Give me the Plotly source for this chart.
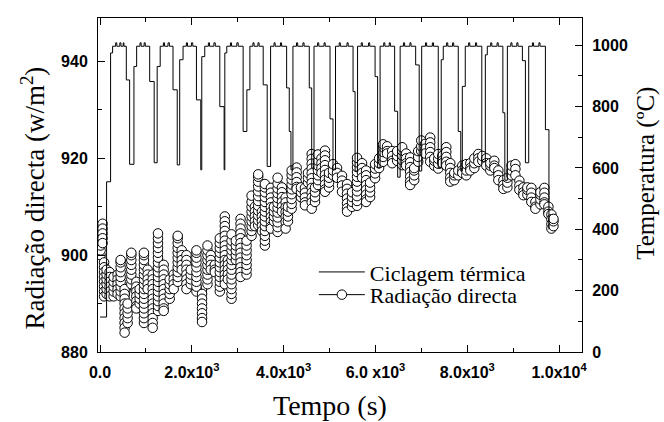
import plotly.graph_objects as go

# ---------------- data ----------------
# Thermal cycling (right axis, degC): step changes (time s, temperature)
thermal_time = [0, 142, 229, 273, 340, 365, 430, 455, 505, 520,
                572, 644, 738, 797, 870, 895, 960, 985,
                1081, 1179, 1244, 1310, 1380, 1405, 1480, 1510,
                1589, 1681, 1735, 1808, 1880, 1905, 1990, 2020,
                2100, 2194, 2216, 2281, 2360, 2385, 2480, 2510,
                2609, 2703, 2718, 2761, 2840, 2865, 2980, 3010,
                3117, 3198, 3264, 3330, 3355, 3440, 3465,
                3554, 3641, 3715, 3790, 3815, 3930, 3955,
                4065, 4122, 4159, 4202, 4280, 4305, 4420, 4445,
                4558, 4611, 4661, 4740, 4765, 4880, 4905,
                5010, 5075, 5130, 5210, 5235, 5380, 5405,
                5512, 5556, 5610, 5690, 5715, 5850, 5875,
                5992, 6047, 6101, 6180, 6205, 6300, 6325,
                6418, 6484, 6538, 6610, 6635, 6750, 6775,
                6876, 6953, 7007, 7090, 7115, 7240, 7265,
                7368, 7433, 7477, 7550, 7575, 7680, 7705,
                7804, 7859, 7892, 7957, 8030, 8055, 8180, 8205,
                8317, 8394, 8437, 8510, 8535, 8650, 8675,
                8776, 8819, 8874, 8950, 8975, 9080, 9105,
                9201, 9267, 9339, 9420, 9445, 9560, 9585,
                9703, 9780]
thermal_temp = [114, 555, 975, 997, 1008, 997, 1008, 997, 1008, 997,
                887, 612, 931, 997, 1008, 997, 1008, 997,
                882, 617, 931, 997, 1008, 997, 1008, 997,
                855, 610, 953, 997, 1008, 997, 1008, 997,
                822, 594, 963, 997, 1008, 997, 1008, 997,
                800, 594, 975, 997, 1008, 997, 1008, 997,
                719, 855, 997, 1008, 997, 1008, 997,
                871, 605, 997, 1008, 997, 1008, 997,
                861, 719, 594, 997, 1008, 997, 1008, 997,
                861, 600, 997, 1008, 997, 1008, 997,
                760, 594, 997, 1008, 997, 1008, 997,
                849, 590, 997, 1008, 997, 1008, 997,
                898, 600, 997, 1008, 997, 1008, 997,
                785, 570, 997, 1008, 997, 1008, 997,
                936, 590, 997, 1008, 997, 1008, 997,
                600, 953, 997, 1008, 997, 1008, 997,
                719, 590, 866, 997, 1008, 997, 1008, 997,
                620, 969, 997, 1008, 997, 1008, 997,
                780, 560, 997, 1008, 997, 1008, 997,
                950, 617, 997, 1008, 997, 1008, 997,
                725, 400]

# Direct radiation (left axis, W/m2): stacked readings, column by column
rad_col_time = [11, 55, 87, 142, 207, 295, 382, 448, 535, 600,
                681, 790, 862, 956, 1037, 1146, 1262, 1386, 1517, 1604,
                1692, 1779, 1882, 1976, 2100, 2222, 2340, 2412, 2500, 2609,
                2718, 2784, 2864, 2958, 3061, 3192, 3301, 3373, 3445, 3526,
                3591, 3722, 3788, 3868, 3962, 4043, 4093, 4174, 4283, 4377,
                4464, 4530, 4611, 4683, 4748, 4824, 4901, 4988, 5075, 5163,
                5272, 5381, 5490, 5599, 5708, 5796, 5883, 5992, 6079, 6167,
                6254, 6364, 6473, 6582, 6669, 6756, 6844, 6931, 6997, 7084,
                7193, 7281, 7368, 7455, 7543, 7630, 7717, 7805, 7892, 7979,
                8067, 8154, 8241, 8328, 8416, 8503, 8590, 8677, 8787, 8874,
                8962, 9049, 9136, 9223, 9310, 9397, 9485, 9594, 9681, 9768,
                9834, 9878]
rad_col_values = [
    [900, 901, 902, 903],
    [906.5, 905.5, 904.5, 903.5, 902.5],
    [898.5, 897.5, 896.5, 895.5, 894.5, 893.5, 892.5, 891.5],
    [892, 893, 894, 895, 896, 897],
    [896.5, 895.5, 894.5, 893.5, 892.5, 891.5],
    [891.5, 892.5, 893.5, 894.5, 895.5],
    [896, 895, 894, 893, 892],
    [891.5, 892.5, 893.5, 894.5, 895.5, 896.5, 897.5, 898.5, 899],
    [893, 892, 891, 890, 889, 888, 887, 886, 885, 884],
    [886, 887, 888, 889, 890],
    [894, 895, 896, 897, 898, 899, 900, 900.5],
    [894.5, 893.5, 892.5, 891.5, 890.5, 889.5, 889],
    [890, 891, 892, 893],
    [886, 887, 888, 889, 890, 891, 892, 893, 894, 895, 896, 897, 898, 899, 900, 900.5],
    [897, 896, 895, 894, 893],
    [896, 895, 894, 893, 892, 891, 890, 889, 888, 887, 886, 885],
    [888.5, 889.5, 890.5, 891.5, 892.5, 893.5, 894.5, 895.5, 896.5, 897.5, 898.5,
     899.5, 900.5, 901.5, 902.5, 903.5, 904.5],
    [898, 897, 896, 895, 894, 893, 892, 891, 890, 889, 888.5],
    [891, 892, 893, 894, 895],
    [896, 895, 894, 893],
    [894.5, 895.5, 896.5, 897.5, 898.5, 899.5, 900.5, 901.5, 902.5, 903.5, 904],
    [901, 900, 899, 898, 897],
    [900, 899, 898, 897, 896, 895, 894, 893],
    [894, 895, 896, 897],
    [892.5, 893.5, 894.5, 895.5, 896.5, 897.5, 898.5, 899.5, 900.5, 901],
    [892, 891, 890, 889, 888, 887, 886.2],
    [894, 895, 896, 897, 898, 899, 900, 901, 902],
    [900, 899, 898, 897],
    [898, 897, 896.5],
    [892.5, 893.5, 894.5, 895.5, 896.5, 897.5, 898.5, 899.5, 900.5, 901.5, 902.5, 903.5],
    [908, 907, 906, 905, 904, 903, 902, 901, 900, 899, 898, 897, 896, 895, 894],
    [899, 898, 897, 896, 895],
    [891, 892, 893, 894, 895, 896, 897, 898, 899, 900, 901, 902, 903, 904.3],
    [899, 900, 901, 902, 903],
    [907.5, 906.5, 905.5, 904.5, 903.5, 902.5, 901.5, 900.5, 899.5, 898.5, 897.5,
     896.5, 895.5],
    [896, 897, 898, 899, 900, 901, 902, 903],
    [904, 905, 906, 907, 908, 909, 910, 911, 912.3],
    [910, 909, 908, 907, 906],
    [906.2, 907.2, 908.2, 909.2, 910.2, 911.2, 912.2, 913.2, 914.2, 915.2, 916.2, 916.7],
    [909, 908, 907, 906, 905],
    [902, 903, 904, 905, 906, 907, 908, 909, 910, 911, 912, 913, 914, 914.7],
    [913.9, 912.9, 911.9, 910.9, 909.9, 908.9, 907.9, 906.9, 905.9, 905.5],
    [907, 908, 909, 910],
    [904.8, 905.8, 906.8, 907.8, 908.8, 909.8, 910.8, 911.8, 912.8, 913.8, 914.8, 916],
    [914, 913, 912, 911, 910, 909],
    [911.9, 910.9, 909.9, 908.9, 907.9, 906.9, 905.5],
    [907, 908, 909, 910],
    [909.6, 910.6, 911.6, 912.6, 913.6, 914.6, 915.6, 916.6, 917.5],
    [918.1, 917.1, 916.1, 915.1, 914.1, 913.7],
    [912, 913, 914],
    [913.9, 912.9, 911.9, 910.9, 910.3],
    [915, 916, 917],
    [920.9, 919.9, 918.9, 917.9, 916.9, 915.9, 914.9, 913.9, 912.9, 911.9, 910.9, 909.6],
    [911, 912, 913, 914],
    [914.5, 915.5, 916.5, 917.5, 918.5, 919.5, 920.8],
    [920, 919, 918, 917],
    [921.6, 920.6, 919.6, 918.6, 917.6, 916.6, 915.6, 914.6, 913.6, 913.1],
    [914, 915, 916, 917],
    [916.5, 917.5, 918.8],
    [918, 917, 916],
    [916.4, 915.4, 914.4, 913.1],
    [914.7, 913.7, 912.7, 911.7, 910.7, 909.7, 909],
    [910, 911, 912, 913],
    [910.2, 911.2, 912.2, 913.2, 914.2, 915.2, 916.2, 917.2, 918.2, 919.2, 920.1],
    [919, 918, 917, 916],
    [917.5, 916.5, 915.5, 914.5, 913.5, 912.5, 911.5, 911],
    [912, 913, 914, 915],
    [915.9, 916.9, 917.9, 918.8],
    [918, 919, 920],
    [919.3, 920.3, 921.3, 922.3, 922.9],
    [922.5, 921.5, 921],
    [921.5, 920.5, 919.5, 919],
    [919.5, 920.5, 921.5],
    [918.6, 919.6, 920.6, 921.6, 922.3],
    [921, 920, 919, 918.5],
    [920.2, 919.2, 918.2, 917.2, 916.2, 915.2, 914.5],
    [915.5, 916.5, 917.5, 918],
    [919.3, 920.3, 921.5],
    [921.5, 922.5, 923.7],
    [923, 922, 921],
    [924.3, 923.3, 922.3, 921.3, 920.3, 919.3],
    [918.5, 919.5, 920],
    [917.9, 918.9, 919.9, 920.9],
    [920.5, 919.5, 919],
    [922.3, 921.3, 920.3, 919.3, 918.5],
    [919, 918, 917, 916, 915.2],
    [915.5, 916.5, 917],
    [916.5, 917.5],
    [918.5, 917.5, 917],
    [916.5, 917.5, 918.8],
    [919, 918, 917.5],
    [918, 919, 920],
    [920.9, 920, 919.3],
    [919.5, 920.5],
    [920, 919, 918.5],
    [917.5, 918.5, 919],
    [919.5, 918.5, 918],
    [917.5, 916.5, 915.5],
    [915.5, 914.5, 913.7],
    [914, 915, 916],
    [916.5, 917.5, 918.5],
    [918.8, 917.8, 916.5],
    [915.4, 914.4, 913.5],
    [914, 913, 912.4],
    [912.5, 913.5, 914],
    [913.9, 912.9, 911.9, 911],
    [911, 910, 909.6],
    [910.5, 911.5, 912.5, 913],
    [913.9, 912.9, 911.9, 910.9, 910.5],
    [910, 909, 908.5],
    [908.4, 907.4, 906.4, 905.5],
    [906, 907, 907.5]]

x_tickvals = [0, 2000, 4000, 6000, 8000, 10000]
x_ticktext = ["0.0", "2.0x10<sup>3</sup>", "4.0x10<sup>3</sup>", "6.0 x10<sup>3</sup>",
              "8.0x10<sup>3</sup>", "1.0x10<sup>4</sup>"]
x_minor = [1000, 3000, 5000, 7000, 9000]
y1_tickvals = [880, 900, 920, 940]
y1_minor = [890, 910, 930]
y2_tickvals = [0, 200, 400, 600, 800, 1000]
y2_minor = [100, 300, 500, 700, 900]

# flatten radiation columns into a series
rad_t, rad_v = [], []
for t, vals in zip(rad_col_time, rad_col_values):
    for v in vals:
        rad_t.append(t)
        rad_v.append(v)

serif = "Liberation Serif, Times New Roman, serif"
sans = "Liberation Sans, Arial, sans-serif"

fig = go.Figure()
fig.add_trace(go.Scatter(
    x=thermal_time, y=thermal_temp, yaxis="y2", mode="lines",
    line=dict(color="black", width=1, shape="hv"),
    name="Ciclagem térmica", legend="legend"))
fig.add_trace(go.Scatter(
    x=rad_t, y=rad_v, mode="lines+markers",
    line=dict(color="black", width=1),
    marker=dict(symbol="circle", size=9.5, color="white",
                line=dict(color="black", width=1)),
    name="Radiação directa", legend="legend2"))

axis_common = dict(showline=True, linecolor="black", linewidth=1,
                   ticks="inside", ticklen=7, tickcolor="black", tickwidth=1,
                   showgrid=False, zeroline=False,
                   tickfont=dict(family=sans, size=16, color="black", weight="bold"))

legend_common = dict(xanchor="left", yanchor="top", bgcolor="rgba(0,0,0,0)",
                     borderwidth=0, itemwidth=46,
                     font=dict(family=serif, size=22, color="black"))

fig.update_layout(
    width=664, height=422,
    margin=dict(l=98, r=82, t=18, b=70),
    paper_bgcolor="white", plot_bgcolor="white",
    showlegend=True,
    legend=dict(x=0.446, y=0.302, **legend_common),
    legend2=dict(x=0.446, y=0.234, **legend_common),
    xaxis=dict(range=[-45, 10500], tickmode="array", tickvals=x_tickvals,
               ticktext=x_ticktext, mirror="ticks", ticklabelstandoff=6,
               minor=dict(ticks="inside", ticklen=4, tickcolor="black",
                          tickmode="array", tickvals=x_minor),
               **axis_common),
    yaxis=dict(range=[880, 949], tickmode="array", tickvals=y1_tickvals,
               ticklabelstandoff=6,
               minor=dict(ticks="inside", ticklen=4, tickcolor="black",
                          tickmode="array", tickvals=y1_minor),
               **axis_common),
    yaxis2=dict(range=[0, 1089], overlaying="y", side="right",
                tickmode="array", tickvals=y2_tickvals, ticklabelstandoff=6,
                minor=dict(ticks="inside", ticklen=4, tickcolor="black",
                           tickmode="array", tickvals=y2_minor),
                **axis_common),
    annotations=[
        dict(text="Tempo (s)", xref="paper", yref="paper", x=0.479, y=-0.159,
             showarrow=False, xanchor="center", yanchor="middle",
             font=dict(family=serif, size=28, color="black")),
        dict(text="Radiação directa (w/m<sup>2</sup>)", xref="paper", yref="paper",
             x=-0.134, y=0.46, textangle=-90, showarrow=False,
             xanchor="center", yanchor="middle",
             font=dict(family=serif, size=27, color="black")),
        dict(text="Temperatura (ºC)", xref="paper", yref="paper",
             x=1.132, y=0.536, textangle=-90, showarrow=False,
             xanchor="center", yanchor="middle",
             font=dict(family=serif, size=25, color="black")),
    ],
)

fig.write_html("out.html")
